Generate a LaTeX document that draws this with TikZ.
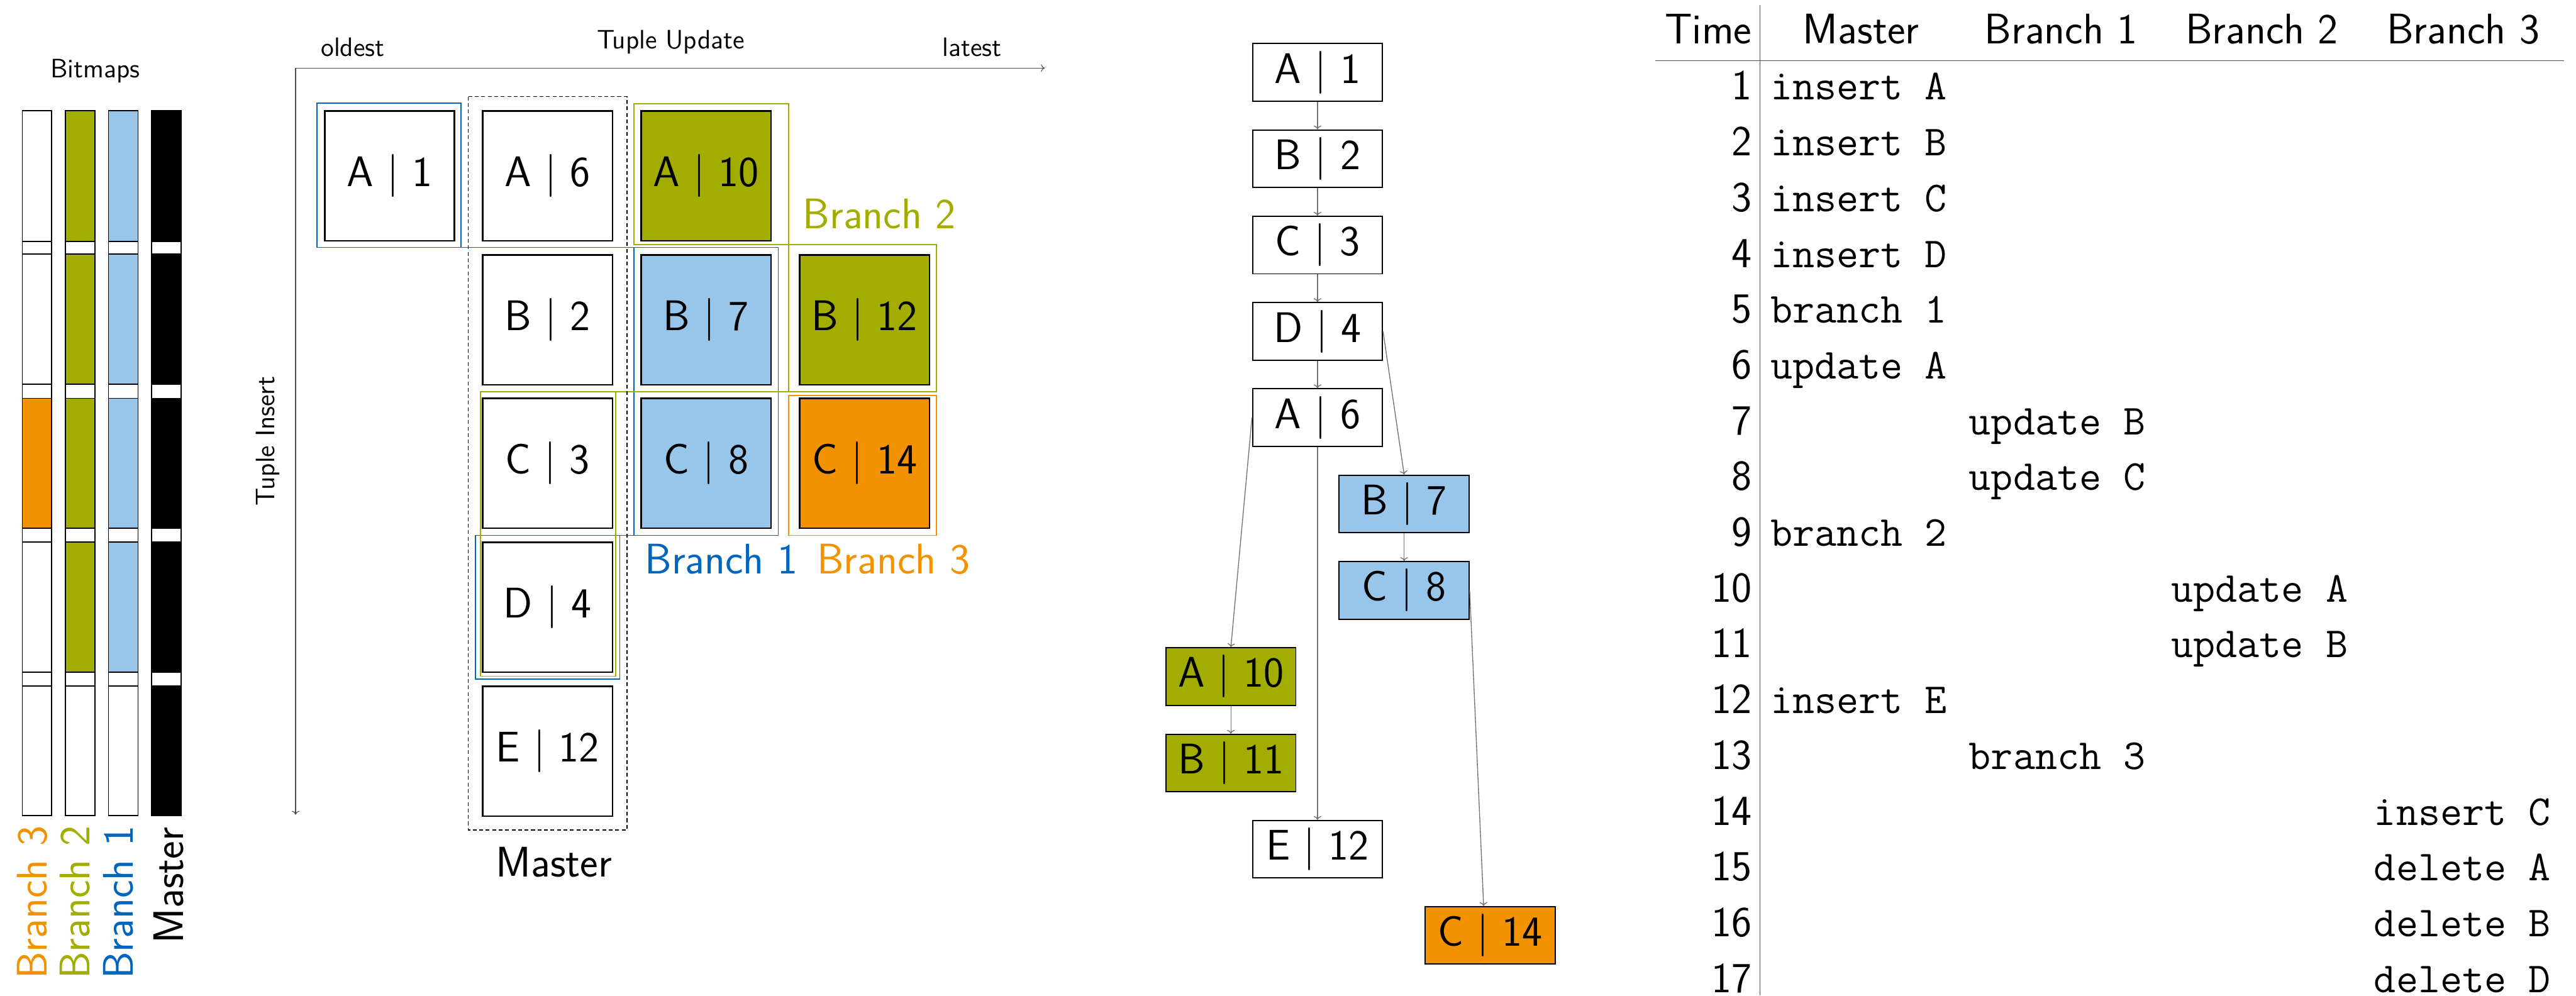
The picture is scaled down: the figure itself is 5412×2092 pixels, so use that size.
\documentclass[tikz,border=0pt]{standalone}
\usetikzlibrary{arrows.meta}
\definecolor{tumgreen}{RGB}{162,173,0}
\definecolor{tumlblue}{RGB}{152,198,234}
\definecolor{tumorange}{RGB}{243,146,0}
\definecolor{tumblue}{RGB}{0,101,189}
\begin{document}
\begin{tikzpicture}[x=0.25pt,y=-0.25pt,
  big/.style={font=\sffamily\fontsize{22.5}{27}\selectfont},
  small/.style={font=\sffamily\fontsize{14}{17}\selectfont},
  cell/.style={draw, line width=0.9pt, minimum width=68.25pt, minimum height=68.25pt, inner sep=0pt, big},
  vnode/.style={draw, line width=0.6pt, minimum width=68.25pt, minimum height=30.25pt, inner sep=0pt, big},
  edge/.style={draw=black!55, line width=0.45pt, -{To[length=2pt,width=4pt]}},
  axis/.style={draw=black!70, line width=0.35pt, -{To[length=2pt,width=4pt]}},
  bar/.style={draw, line width=0.6pt},
  outl/.style={line width=0.6pt},
  num/.style={big, anchor=base east, inner sep=0pt},
  ops/.style={font=\ttfamily\fontsize{22.5}{27}\selectfont, anchor=base west, inner sep=0pt},
  hdr/.style={big, anchor=base, inner sep=0pt},
  rule/.style={draw=black!70, line width=0.4pt},
  ]
\useasboundingbox (0,0) rectangle (5412,2092);

% ---------------- Bitmaps ----------------
\node[small, anchor=base] (bmlabel) at (200,163) {Bitmaps};
\foreach \xa/\xb/\fa/\fb/\fc/\fd/\fe in {
  47/108/white/white/tumorange/white/white,
  137/199/tumgreen/tumgreen/tumgreen/tumgreen/white,
  228/290/tumlblue/tumlblue/tumlblue/tumlblue/white,
  318/381/black/black/black/black/black}{
  \draw[bar] (\xa,233) rectangle (\xb,1714);
  \draw[bar,fill=\fa] (\xa,233) rectangle (\xb,507);
  \draw[bar,fill=\fb] (\xa,534) rectangle (\xb,807);
  \draw[bar,fill=\fc] (\xa,837) rectangle (\xb,1110);
  \draw[bar,fill=\fd] (\xa,1139) rectangle (\xb,1412);
  \draw[bar,fill=\fe] (\xa,1441) rectangle (\xb,1714);
}
\node[big, text=tumorange, rotate=90, anchor=base east, inner sep=0pt] (lb3) at (99,1735) {Branch 3};
\node[big, text=tumgreen, rotate=90, anchor=base east, inner sep=0pt] (lb2) at (188,1735) {Branch 2};
\node[big, text=tumblue, rotate=90, anchor=base east, inner sep=0pt] (lb1) at (279,1735) {Branch 1};
\node[big, text=black, rotate=90, anchor=base east, inner sep=0pt] (lbm) at (385,1738) {Master};

% ---------------- Grid ----------------
\coordinate (orig) at (621,143);
\coordinate (xend) at (2195,143);
\coordinate (yend) at (621,1712);
\draw[axis] (orig) -- (xend);
\draw[axis] (orig) -- (yend);
\node[small, anchor=base] (oldest) at (741,118) {oldest};
\node[small, anchor=base] (tupd) at (1409,102) {Tuple Update};
\node[small, anchor=base] (latest) at (2042,118) {latest};
\node[small, rotate=90] (tins) at (563,927) {Tuple Insert};

\node[cell] (gA1) at (818.5,369.5) {A | 1};
\node[cell] (gA6) at (1150.5,369.5) {A | 6};
\node[cell, fill=tumgreen] (gA10) at (1483.5,369.5) {A | 10};
\node[cell] (gB2) at (1150.5,672) {B | 2};
\node[cell, fill=tumlblue] (gB7) at (1483.5,672) {B | 7};
\node[cell, fill=tumgreen] (gB12) at (1816.5,672) {B | 12};
\node[cell] (gC3) at (1150.5,973.5) {C | 3};
\node[cell, fill=tumlblue] (gC8) at (1483.5,973.5) {C | 8};
\node[cell, fill=tumorange] (gC14) at (1816.5,973.5) {C | 14};
\node[cell] (gD4) at (1150.5,1276) {D | 4};
\node[cell] (gE12) at (1150.5,1578.5) {E | 12};

% branch outlines
\draw[outl, tumblue] (666,217) rectangle (969,520) (969,520) -- (1332,520)
  (1332,520) rectangle (1635,1125) (1302,1125) -- (1332,1125)
  (999,1125) rectangle (1302,1427);
\draw[outl, tumgreen] (1332,218) rectangle (1657,514) (1657,514) rectangle (1967,823)
  (1293,823) -- (1657,823) (1009,823) rectangle (1293,1421);
\draw[outl, tumorange] (1657,831) rectangle (1967,1125);
\draw[line width=0.5pt, dash pattern=on 2pt off 1.4pt] (984,203) rectangle (1317,1744);

\node[big, text=tumgreen, anchor=base west, inner sep=0pt] (lg2) at (1686,480) {Branch 2};
\node[big, text=tumblue, anchor=base west, inner sep=0pt] (lg1) at (1354,1206) {Branch 1};
\node[big, text=tumorange, anchor=base west, inner sep=0pt] (lg3) at (1716,1206) {Branch 3};
\node[big, anchor=base, inner sep=0pt] (lgm) at (1164,1843) {Master};

% ---------------- Version chain ----------------
\node[vnode] (vA1) at (2768,152) {A | 1};
\node[vnode] (vB2) at (2768,333.5) {B | 2};
\node[vnode] (vC3) at (2768,515) {C | 3};
\node[vnode] (vD4) at (2768,696.5) {D | 4};
\node[vnode] (vA6) at (2768,877.5) {A | 6};
\node[vnode, fill=tumlblue] (vB7) at (2950,1059) {B | 7};
\node[vnode, fill=tumlblue] (vC8) at (2950,1240.5) {C | 8};
\node[vnode, fill=tumgreen] (vA10) at (2586,1421.5) {A | 10};
\node[vnode, fill=tumgreen] (vB11) at (2586,1603.5) {B | 11};
\node[vnode] (vE12) at (2768,1784.5) {E | 12};
\node[vnode, fill=tumorange] (vC14) at (3131,1965.5) {C | 14};

\draw[edge] (vA1) -- (vB2);
\draw[edge] (vB2) -- (vC3);
\draw[edge] (vC3) -- (vD4);
\draw[edge] (vD4) -- (vA6);
\draw[edge] (vD4.east) -- (vB7.north);
\draw[edge] (vA6.west) -- (vA10.north);
\draw[edge] (vA6) -- (vE12);
\draw[edge] (vB7) -- (vC8);
\draw[edge] (vA10) -- (vB11);
\draw[edge] (vC8.east) -- ([xshift=-3.5pt]vC14.north);

% ---------------- Table ----------------
\node[num] (hT) at (3681,92) {Time};
\node[hdr] (hM) at (3910,92) {Master};
\node[hdr] (h1) at (4330,92) {Branch 1};
\node[hdr] (h2) at (4752,92) {Branch 2};
\node[hdr] (h3) at (5175,92) {Branch 3};
\draw[rule] (3478,127) -- (5387,127);
\draw[rule] (3698,10) -- (3698,2092);
\foreach \i/\c/\t in {1/3719/insert A, 2/3719/insert B, 3/3719/insert C, 4/3719/insert D,
  5/3719/branch 1, 6/3719/update A, 7/4136/update B, 8/4136/update C, 9/3719/branch 2,
  10/4561/update A, 11/4561/update B, 12/3719/insert E, 13/4136/branch 3,
  14/4987/insert C, 15/4987/delete A, 16/4987/delete B, 17/4987/delete D}{
  \node[num] (n\i) at (3681,{210+(\i-1)*117.2}) {\i};
  \node[ops] (o\i) at (\c,{210+(\i-1)*117.2}) {\t};
}
\end{tikzpicture}
\end{document}
